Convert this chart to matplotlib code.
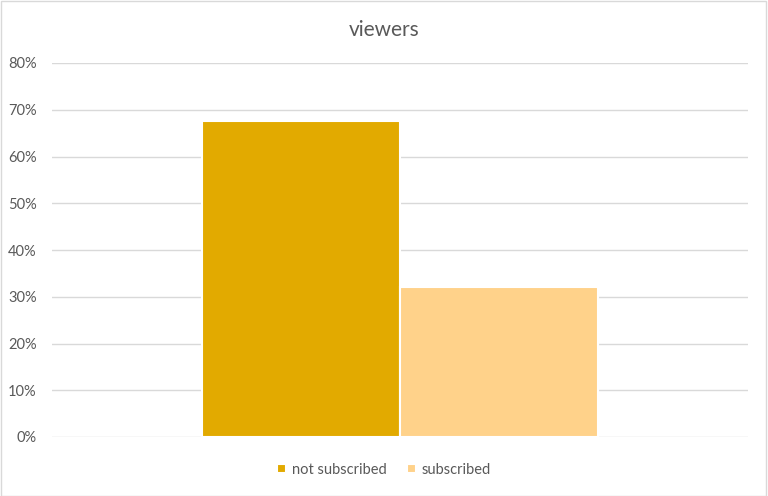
import matplotlib.pyplot as plt
from matplotlib.patches import Rectangle
from matplotlib.ticker import FuncFormatter

title = "viewers"
series_names = ["not subscribed", "subscribed"]
series_values = [67.5, 32.0]
bar_colors = ["#E2AA00", "#FFD28A"]
y_ticks = [0, 10, 20, 30, 40, 50, 60, 70, 80]

plt.rcParams['font.family'] = ['Lato', 'DejaVu Sans']

fig = plt.figure(figsize=(7.68, 4.96), dpi=100)
ax = fig.add_axes([52 / 768, 59 / 496, 696 / 768, 374 / 496])

# one category, two series side by side (Excel gap width ~150%)
bar_w = 0.2845
offsets = [-bar_w / 2, bar_w / 2]
for name, val, col, off in zip(series_names, series_values, bar_colors, offsets):
    ax.bar(off, val, width=bar_w, color=col, edgecolor="white",
           linewidth=1.5, label=name, zorder=3)

ax.set_xlim(-0.5, 0.5)
ax.set_ylim(0, 80)
ax.set_yticks(y_ticks)
ax.yaxis.set_major_formatter(FuncFormatter(lambda v, p: f"{v:.0f}%"))
ax.set_xticks([])
ax.grid(axis="y", color="#D9D9D9", linewidth=1, zorder=0)
for s in ax.spines.values():
    s.set_visible(False)
ax.tick_params(axis="y", length=0, pad=11, labelsize=10.5, labelcolor="#595959")

fig.text(0.5, 1 - 30 / 496, title, ha="center", va="center",
         fontsize=15, color="#595959")

leg = fig.legend(loc="center", bbox_to_anchor=(0.5, 1 - 470 / 496), ncol=2,
                 frameon=False, fontsize=10.5, handlelength=0.6, handleheight=0.6,
                 handletextpad=0.4, columnspacing=1.4)
for t in leg.get_texts():
    t.set_color("#595959")

# thin chart-area border
fig.patches.append(Rectangle((0.001, 0.001), 0.997, 0.997, transform=fig.transFigure,
                             fill=False, edgecolor="#D9D9D9", linewidth=1))

fig.savefig("out.png", dpi=100)
